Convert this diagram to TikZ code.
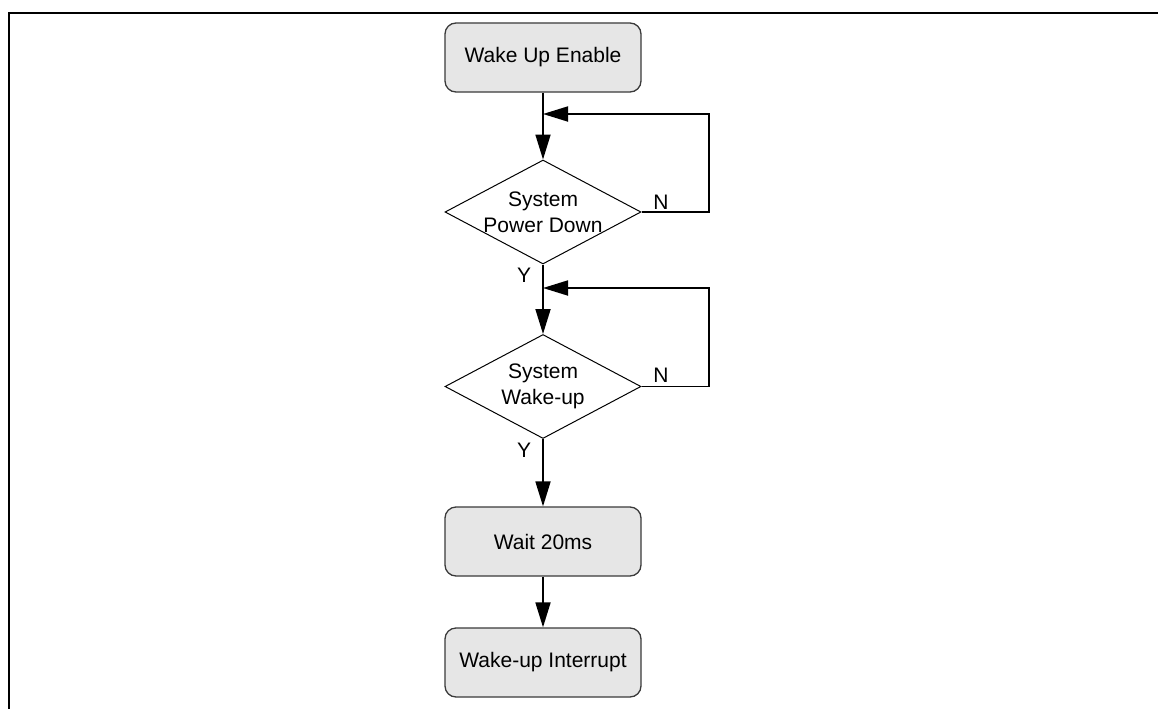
\documentclass[tikz,border=0pt]{standalone}
\usepackage{fontspec}
\setmainfont{Liberation Sans}
\usetikzlibrary{shapes.geometric,arrows.meta}
\definecolor{boxfill}{HTML}{E6E6E6}
\definecolor{boxline}{HTML}{3A3A3A}
\begin{document}
\begin{tikzpicture}[x=1pt,y=-1pt,
  every node/.style={font=\fontsize{21}{26}\selectfont},
  stepbox/.style={draw=boxline,line width=1.3pt,fill=boxfill,rounded corners=11pt,
    minimum width=196pt,minimum height=69pt,inner sep=0pt},
  decision/.style={draw=black,line width=1pt,diamond,minimum width=196pt,minimum height=104pt,inner sep=0pt},
  txt/.style={align=center,inner sep=0pt},
  flow/.style={line width=1.8pt,-{Triangle[length=25pt,width=15pt]}},
  plain/.style={line width=1.8pt}]
\useasboundingbox (0,0) rectangle (1158,709);
% frame
\draw[line width=2pt] (1158,13) -- (9,13) -- (9,709);
% nodes
\node[stepbox] (b1) at (543,57.5) {Wake Up Enable};
\node[decision] (d1) at (543,212) {};
\node[txt] (t1) at (543,212) {System\\Power Down};
\node[decision] (d2) at (543,386.5) {};
\node[txt] (t2) at (543,386.5) {System\\Wake-up};
\node[stepbox] (b3) at (543,541.5) {Wait 20ms};
\node[stepbox] (b4) at (543,662.5) {Wake-up Interrupt};
\coordinate (j1) at (543,114);
\coordinate (j2) at (543,288);
\coordinate (r1) at (709,114);
\coordinate (r2) at (709,288);
% connectors
\draw[flow] (b1.south) -- (d1.north);
\draw[flow] (d1.east) -| (r1) -- (j1);
\draw[flow] (d1.south) -- (d2.north);
\draw[flow] (d2.east) -| (r2) -- (j2);
\draw[flow] (d2.south) -- (b3.north);
\draw[flow] (b3.south) -- (b4.north);
% labels
\node[inner sep=0pt] (n1) at (661,202) {N};
\node[inner sep=0pt] (n2) at (661,375) {N};
\node[inner sep=0pt] (y1) at (524,275) {Y};
\node[inner sep=0pt] (y2) at (524,450) {Y};
\end{tikzpicture}
\end{document}
